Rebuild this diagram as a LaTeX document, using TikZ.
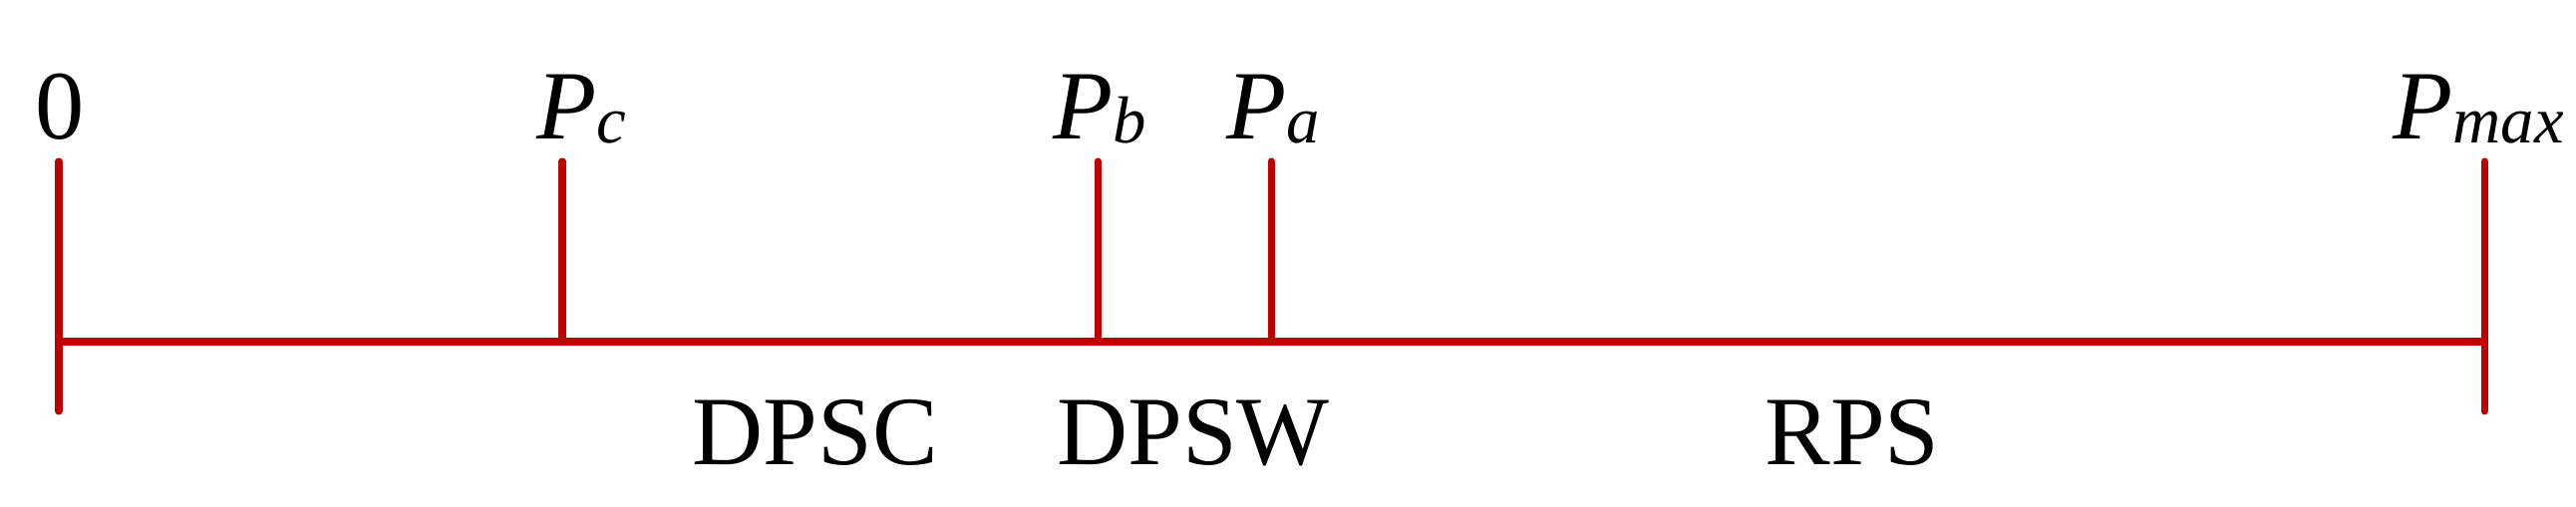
\documentclass[tikz,border=0pt]{standalone}
\usepackage{fontspec}
\setmainfont{Liberation Serif}
\definecolor{axisred}{RGB}{192,0,0}
\tikzset{
  axisline/.style={draw=axisred, line width=2pt, line cap=round},
  toplabel/.style={anchor=base, inner sep=0pt, font=\fontsize{28}{30}\selectfont},
  zonelabel/.style={anchor=base, inner sep=0pt, font=\fontsize{28}{30}\selectfont},
}
\newcommand{\sublbl}[1]{\raisebox{-0.04em}{\fontsize{19}{20}\selectfont\itshape #1}}
\begin{document}
\begin{tikzpicture}
\useasboundingbox (0,0) rectangle (25.84,5.09);
% axis points
\coordinate (o) at (0.59,1.66);
\coordinate (c) at (5.64,1.66);
\coordinate (b) at (11.01,1.66);
\coordinate (a) at (12.75,1.66);
\coordinate (m) at (24.92,1.66);
\coordinate (otop) at (0.59,3.47);
\coordinate (obot) at (0.59,0.96);
\coordinate (ctop) at (5.64,3.47);
\coordinate (btop) at (11.01,3.47);
\coordinate (atop) at (12.75,3.47);
\coordinate (mtop) at (24.92,3.47);
\coordinate (mbot) at (24.92,0.96);
% lines
\draw[axisline, line cap=butt] (o) -- (m);
\draw[axisline] (otop) -- (obot);
\draw[axisline] (mtop) -- (mbot);
\draw[axisline] (ctop) -- (c);
\draw[axisline] (btop) -- (b);
\draw[axisline] (atop) -- (a);
% top labels
\node[toplabel] (l0) at (0.60,3.69) {0};
\node[toplabel] (lc) at (5.83,3.69) {\itshape P\sublbl{c}};
\node[toplabel] (lb) at (11.03,3.69) {\itshape P\sublbl{b}};
\node[toplabel] (la) at (12.77,3.69) {\itshape P\sublbl{a}};
\node[toplabel] (lm) at (24.86,3.69) {\itshape P\sublbl{max}};
% zone labels
\node[zonelabel] (z1) at (8.18,0.42) {DPSC};
\node[zonelabel] (z2) at (11.97,0.42) {DPSW};
\node[zonelabel] (z3) at (18.58,0.42) {RPS};
\end{tikzpicture}
\end{document}
